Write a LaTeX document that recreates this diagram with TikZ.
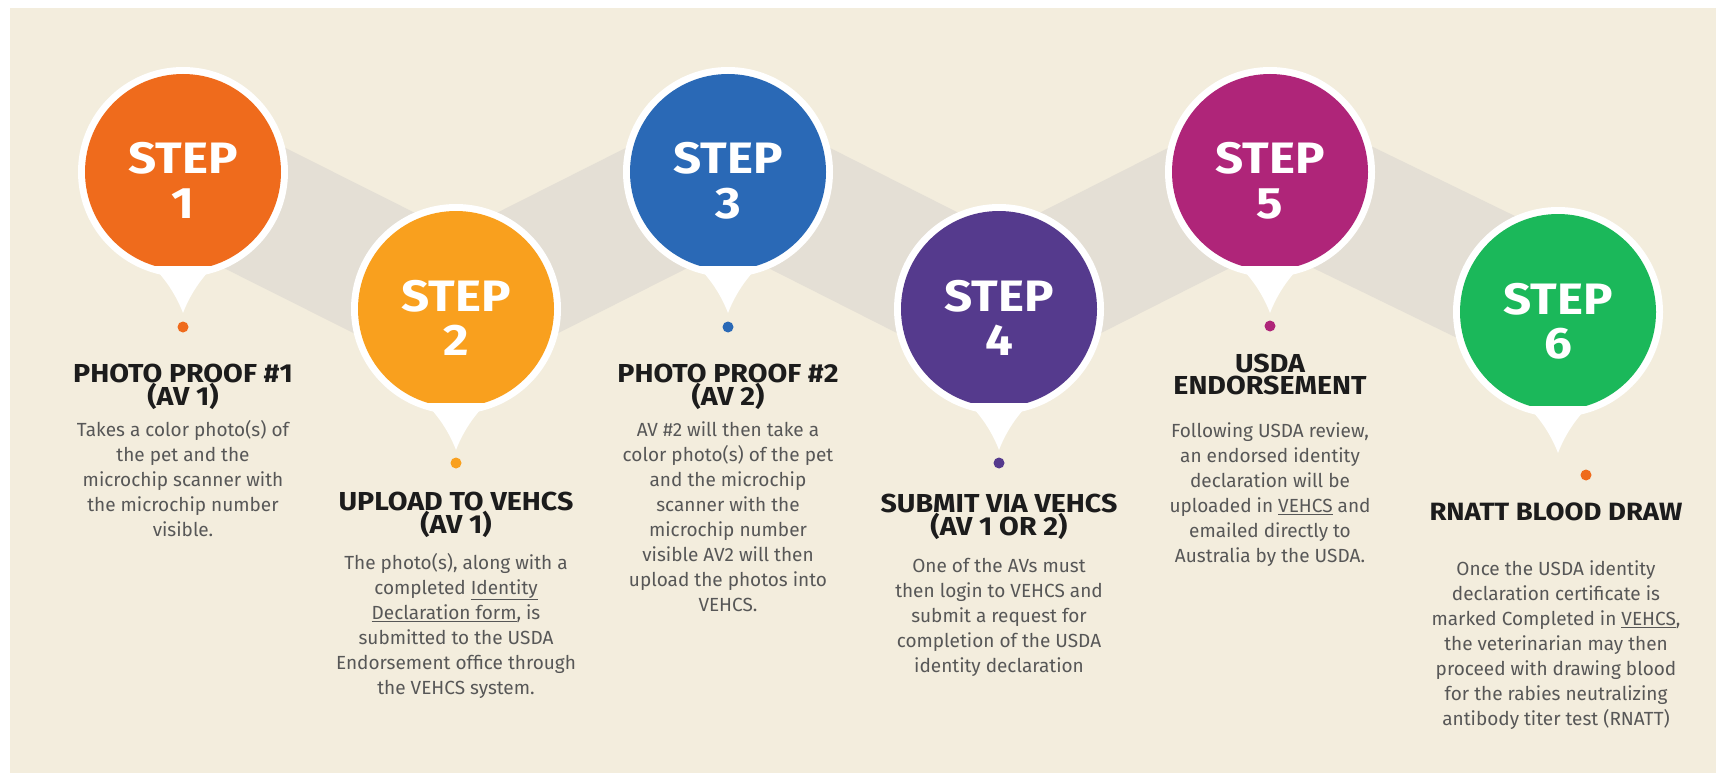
\documentclass[tikz,border=0pt]{standalone}
\usepackage{fontspec}
\newfontfamily\stepfont{Fira Sans}[FakeStretch=1.12]
\newfontfamily\titlefont{Fira Sans}[FakeStretch=1.1]
\newfontfamily\bodyfont{Fira Sans}
\definecolor{bgbeige}{HTML}{F3EDDD}
\definecolor{bandc}{HTML}{E4DFD5}
\definecolor{titlec}{HTML}{1C1C1C}
\definecolor{bodyc}{HTML}{575757}
\definecolor{cone}{HTML}{EF6B1C}
\definecolor{ctwo}{HTML}{F9A01E}
\definecolor{cthree}{HTML}{2A69B6}
\definecolor{cfour}{HTML}{553A8D}
\definecolor{cfive}{HTML}{AF2579}
\definecolor{csix}{HTML}{1BB85A}
\newcommand{\ttlstrut}{\rule{0pt}{24pt}}
\newcommand{\bdystrut}{\rule{0pt}{17pt}}
\newcommand{\drawpin}[5]{%
  \begin{scope}[shift={(#2,#3)}]
    \fill[white] (0,0) circle[radius=105pt];
    \fill[white] (-40,86) .. controls (-22,100) and (-8,120) .. (0,141)
      .. controls (8,120) and (22,100) .. (40,86) -- cycle;
    \begin{scope}
      \clip (-110,-110) rectangle (110,93);
      \fill[#4] (0,0) circle[radius=98pt];
    \end{scope}
    \node[steptxt] (#1s) at (0,2) {STEP};
    \node[steptxt] (#1n) at (0,46) {#5};
  \end{scope}
}
\begin{document}
\begin{tikzpicture}[x=1pt,y=-1pt,
  title/.style={font=\titlefont\bfseries\fontsize{26}{21}\selectfont, text=titlec, align=center, anchor=north, inner sep=0pt},
  titlelow/.style={title, font=\titlefont\bfseries\fontsize{26}{23}\selectfont},
  body/.style={font=\bodyfont\fontsize{19}{25}\selectfont, text=bodyc, align=center, anchor=north, inner sep=0pt},
  steptxt/.style={font=\stepfont\bfseries\fontsize{44}{44}\selectfont, text=white, anchor=base, inner sep=0pt},
  band/.style={draw=bandc, line width=135pt, line join=round},
  pindot/.style={circle, inner sep=0pt, minimum size=11pt}]
\useasboundingbox (0,0) rectangle (1716,773);
\fill[white] (0,0) rectangle (1716,773);
\fill[bgbeige] (10,8) rectangle (1716,773);

\coordinate (c1) at (183,172);
\coordinate (c2) at (456,309);
\coordinate (c3) at (728,172);
\coordinate (c4) at (999,309);
\coordinate (c5) at (1270,172);
\coordinate (c6) at (1558,312);
\draw[band] (c1) -- (c2) -- (c3) -- (c4) -- (c5) -- (c6);

\drawpin{p1}{183}{172}{cone}{1}
\drawpin{p2}{456}{309}{ctwo}{2}
\drawpin{p3}{728}{172}{cthree}{3}
\drawpin{p4}{999}{309}{cfour}{4}
\drawpin{p5}{1270}{172}{cfive}{5}
\drawpin{p6}{1558}{312}{csix}{6}

\node[pindot, fill=cone] (d1) at (183,327) {};
\node[pindot, fill=ctwo] (d2) at (456,463) {};
\node[pindot, fill=cthree] (d3) at (728,327) {};
\node[pindot, fill=cfour] (d4) at (999,463) {};
\node[pindot, fill=cfive] (d5) at (1270,326) {};
\node[pindot, fill=cone] (d6) at (1586,475) {};

\node[title] (t1) at (183,358) {\ttlstrut PHOTO PROOF \#1\\(AV 1)};
\node[body] (b1) at (183,419) {\bdystrut Takes a color photo(s) of\\the pet and the\\microchip scanner with\\the microchip number\\visible.};

\node[titlelow] (t2) at (456,486) {\ttlstrut UPLOAD TO VEHCS\\(AV 1)};
\node[body] (b2) at (456,552) {\bdystrut The photo(s), along with a\\completed \underline{Identity}\\\underline{Declaration form}, is\\submitted to the USDA\\Endorsement office through\\the VEHCS system.};

\node[title] (t3) at (728,358) {\ttlstrut PHOTO PROOF \#2\\(AV 2)};
\node[body] (b3) at (728,419) {\bdystrut AV \#2 will then take a\\color photo(s) of the pet\\and the microchip\\scanner with the\\microchip number\\visible AV2 will then\\upload the photos into\\VEHCS.};

\node[titlelow] (t4) at (999,488) {\ttlstrut SUBMIT VIA VEHCS\\(AV 1 OR 2)};
\node[body] (b4) at (999,555) {\bdystrut One of the AVs must\\then login to VEHCS and\\submit a request for\\completion of the USDA\\identity declaration};

\node[title, font=\titlefont\bfseries\fontsize{26}{22.5}\selectfont] (t5) at (1270,348) {\ttlstrut USDA\\ENDORSEMENT};
\node[body] (b5) at (1270,420) {\bdystrut Following USDA review,\\an endorsed identity\\declaration will be\\uploaded in \underline{VEHCS} and\\emailed directly to\\Australia by the USDA.};

\node[title, font=\titlefont\bfseries\fontsize{25}{21}\selectfont] (t6) at (1556,496) {\ttlstrut RNATT BLOOD DRAW};
\node[body] (b6) at (1556,558) {\bdystrut Once the USDA identity\\declaration certificate is\\marked Completed in \underline{VEHCS},\\the veterinarian may then\\proceed with drawing blood\\for the rabies neutralizing\\antibody titer test (RNATT)};
\end{tikzpicture}
\end{document}
